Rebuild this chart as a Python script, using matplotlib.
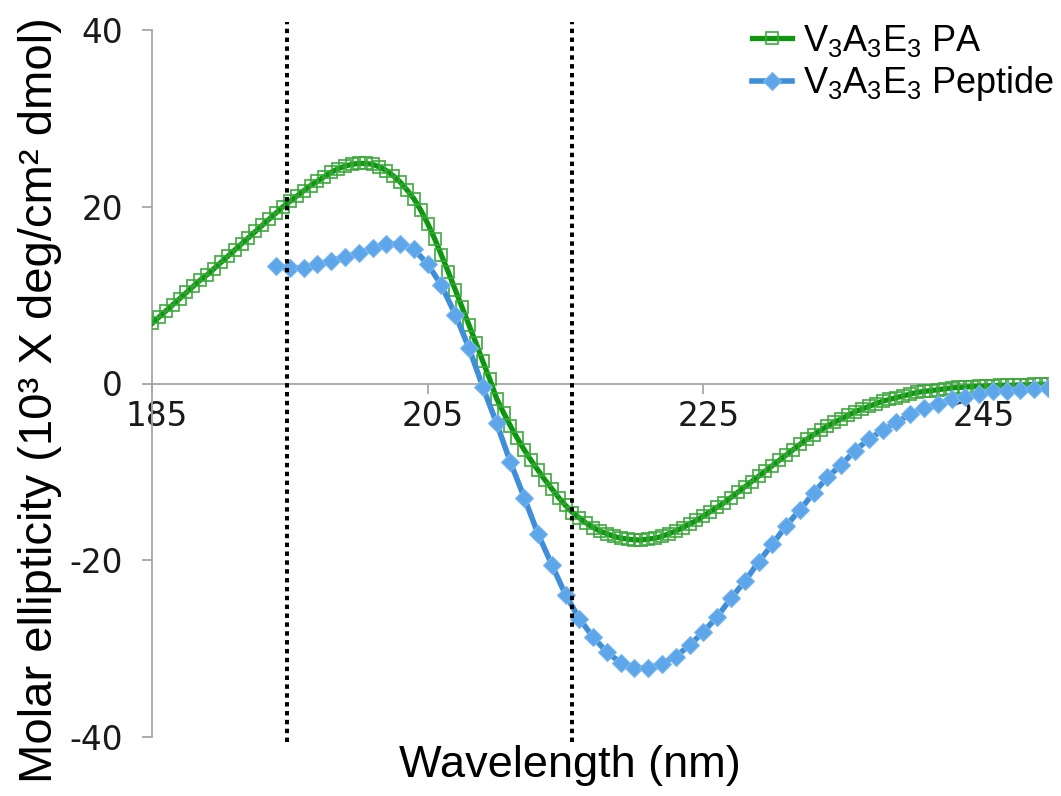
import matplotlib
matplotlib.use("Agg")
import matplotlib.pyplot as plt
import matplotlib.transforms as mtransforms
import numpy as np

plt.rcParams['mathtext.fontset'] = 'custom'
plt.rcParams['mathtext.rm'] = 'Liberation Sans'
plt.rcParams['mathtext.it'] = 'Liberation Sans:italic'
plt.rcParams['axes.unicode_minus'] = False

# V3A3E3 PA, 185-250 nm every 0.5 nm
pa_wl = np.arange(185, 250.5, 0.5)
pa_ellip = [
    6.8, 7.5, 8.2, 8.9, 9.6, 10.3, 11.0, 11.7, 12.3, 13.0,
    13.7, 14.4, 15.1, 15.8, 16.5, 17.2, 17.9, 18.6, 19.3, 20.0,
    20.6, 21.2, 21.8, 22.4, 22.9, 23.4, 23.9, 24.3, 24.6, 24.8,
    24.9, 24.9, 24.8, 24.5, 24.1, 23.5, 22.8, 21.9, 20.9, 19.6,
    18.1, 16.4, 14.5, 12.6, 10.6, 8.6, 6.6, 4.6, 2.5, 0.5,
    -1.7, -3.3, -4.8, -6.2, -7.5, -8.7, -9.8, -10.9, -11.9, -12.9,
    -13.8, -14.6, -15.2, -15.8, -16.3, -16.7, -17.0, -17.3, -17.5, -17.6,
    -17.7, -17.7, -17.6, -17.5, -17.3, -17.0, -16.7, -16.3, -15.9, -15.5,
    -15.0, -14.5, -14.0, -13.5, -12.9, -12.3, -11.7, -11.1, -10.5, -9.9,
    -9.3, -8.7, -8.1, -7.5, -6.9, -6.3, -5.8, -5.3, -4.8, -4.4,
    -4.0, -3.6, -3.2, -2.9, -2.6, -2.3, -2.0, -1.8, -1.6, -1.4,
    -1.2, -1.0, -0.9, -0.8, -0.7, -0.6, -0.5, -0.45, -0.4, -0.35,
    -0.3, -0.3, -0.25, -0.2, -0.2, -0.2, -0.15, -0.15, -0.1, -0.1,
    -0.1,
]

# V3A3E3 peptide, 194-250 nm every 1 nm
pep_wl = np.arange(194, 251, 1)
pep_ellip = [
    13.3, 13.1, 13.1, 13.5, 13.9, 14.3, 14.8, 15.3, 15.8, 15.8,
    15.2, 13.5, 11.1, 7.8, 4.0, -0.4, -4.5, -8.9, -12.9, -17.0,
    -20.5, -23.9, -26.6, -28.7, -30.4, -31.6, -32.2, -32.2, -31.7, -30.9,
    -29.6, -28.1, -26.4, -24.3, -22.4, -20.2, -18.2, -16.1, -14.3, -12.4,
    -10.6, -9.2, -7.6, -6.3, -5.3, -4.4, -3.5, -2.8, -2.3, -1.8,
    -1.5, -1.2, -0.9, -0.8, -0.7, -0.6, -0.5,
]

x_ticks = [185, 205, 225, 245]
y_ticks = [-40, -20, 0, 20, 40]
marker_lines = [194.8, 215.5]

W, H = 1061, 796
fig = plt.figure(figsize=(W / 100, H / 100), dpi=100)
ax = fig.add_axes([152 / W, 1 - 737 / H, (1048 - 152) / W, (737 - 30) / H])

ax.plot(pa_wl, pa_ellip, color='#0f960f', lw=3.8, marker='s', ms=9.3,
        mfc='none', mec=(0.22, 0.66, 0.22, 0.9), mew=1.3,
        label=r'V$_{\mathrm{3}}$A$_{\mathrm{3}}$E$_{\mathrm{3}}$ PA', zorder=3)
ax.plot(pep_wl, pep_ellip, color='#3f8fd8', lw=4.0, marker='D', ms=9.5,
        mfc='#5da6ea', mec='#7ab7ee', mew=0.8,
        label=r'V$_{\mathrm{3}}$A$_{\mathrm{3}}$E$_{\mathrm{3}}$ Peptide', zorder=4)

ax.vlines(marker_lines, -40.6, 40.9, colors='black', lw=2.9,
          linestyles=(0, (1.1, 1.1)), clip_on=False, zorder=5)

ax.set_xlim(185, 250)
ax.set_ylim(-40, 40)
ax.set_xticks(x_ticks)
ax.set_yticks(y_ticks)

for s in ['top', 'right']:
    ax.spines[s].set_visible(False)
ax.spines['bottom'].set_position(('data', 0))
for s in ['left', 'bottom']:
    ax.spines[s].set_color('#a6a6a6')
    ax.spines[s].set_linewidth(1.3)

ax.tick_params(axis='both', direction='out', length=7, width=1.3,
               color='#a6a6a6', labelsize=23.5, labelcolor='#1a1a1a')
ax.tick_params(axis='y', pad=14)
ax.tick_params(axis='x', pad=5)

# Excel-style labels sit a little right of their ticks
shift = mtransforms.ScaledTranslation(5 / 100, 0, fig.dpi_scale_trans)
for lab in ax.get_xticklabels():
    lab.set_transform(lab.get_transform() + shift)

fig.text(40 / W, 1 - 400 / H, 'Molar ellipticity (10³ X deg/cm² dmol)',
         rotation=90, ha='center', va='center', fontsize=34,
         family='Liberation Sans')
fig.text(570 / W, 1 - 765 / H, 'Wavelength (nm)', ha='center', va='center',
         fontsize=32.5, family='Liberation Sans')

leg = ax.legend(loc='upper left', bbox_to_anchor=(752 / W, 1 - 23 / H),
                bbox_transform=fig.transFigure, frameon=False,
                prop={'family': 'Liberation Sans', 'size': 26},
                handlelength=1.1, handletextpad=0.3, labelspacing=0.15,
                borderaxespad=0, borderpad=0)

fig.savefig('out.png', dpi=100)
